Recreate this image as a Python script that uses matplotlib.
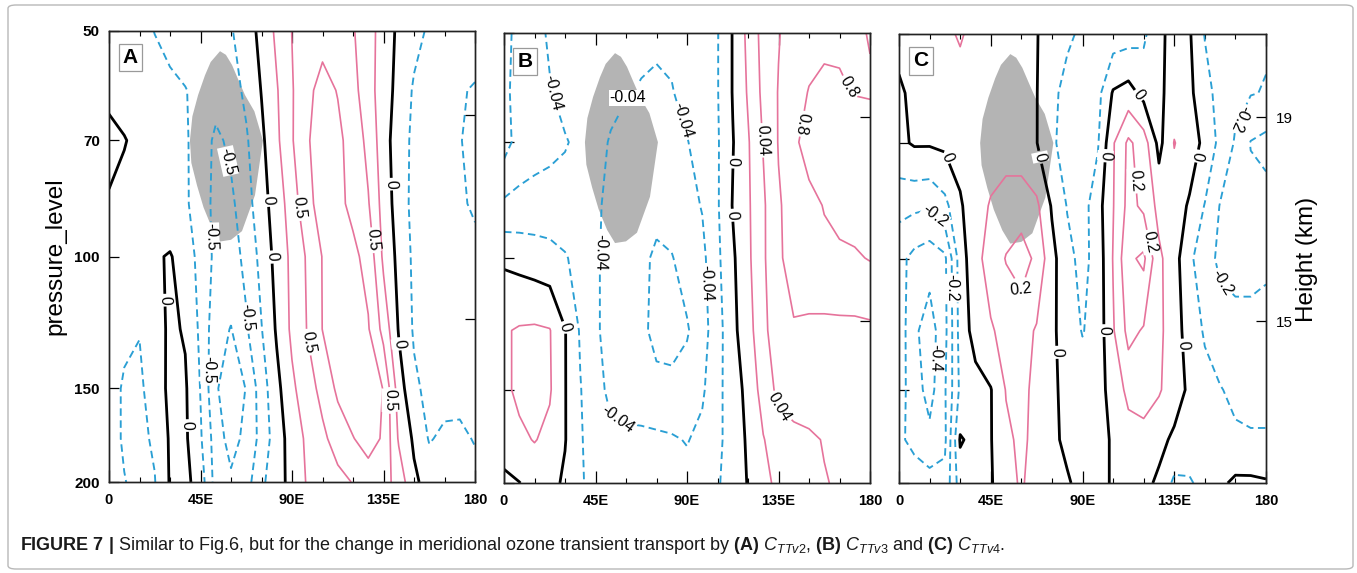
import numpy as np
import matplotlib
matplotlib.use("Agg")
import matplotlib.pyplot as plt
from matplotlib import font_manager
from matplotlib.patches import Polygon, FancyBboxPatch
from matplotlib.ticker import FixedLocator, NullLocator

plt.rcParams['font.family'] = ['Liberation Sans', 'DejaVu Sans']
plt.rcParams['mathtext.fontset'] = 'custom'
plt.rcParams['mathtext.rm'] = 'Liberation Sans'
plt.rcParams['mathtext.it'] = 'Liberation Sans:italic'
plt.rcParams['mathtext.bf'] = 'Liberation Sans:bold'
plt.rcParams['lines.dashed_pattern'] = [4.0, 2.4]

_installed = {f.name for f in font_manager.fontManager.ttflist}
NARROW = 'Liberation Sans Narrow' if 'Liberation Sans Narrow' in _installed else 'Liberation Sans'

# ---------------- data ----------------
LON = [0, 7.5, 15, 22.5, 30, 37.5, 45, 52.5, 60, 67.5, 75, 82.5, 90,
       97.5, 105, 112.5, 120, 127.5, 135, 142.5, 150, 157.5, 165, 172.5, 180]
PRES = [50, 60, 70, 85, 100, 125, 150, 175, 200]

X_TICKS = [0, 45, 90, 135, 180]
X_TICK_LABELS = ['0', '45E', '90E', '135E', '180']
X_MINOR = [15, 30, 60, 75, 105, 120, 150, 165]
P_TICKS = [50, 70, 100, 150, 200]
P_TICK_LABELS = ['50', '70', '100', '150', '200']
HEIGHT_P = [64.7, 121.3]
HEIGHT_KM = ['19', '15']

GRAY_LON = [54.6, 50.0, 47.2, 43.8, 41.0, 39.8, 40.5, 43.3, 46.5, 50.7, 54.6,
            60.0, 65.4, 71.8, 75.7, 71.5, 66.9, 63.5, 60.5, 57.5]
GRAY_P = [53.2, 55.0, 57.3, 60.9, 65.0, 70.0, 75.0, 80.4, 86.0, 91.7, 95.5,
          95.0, 92.5, 82.8, 70.0, 64.0, 60.9, 58.0, 55.5, 53.8]

A_VALUES = [
    [-0.10, -0.12, -0.18, -0.255, -0.32, -0.38, -0.42, -0.40, -0.27, -0.12, 0.07, 0.30, 0.505, 0.60, 0.68, 0.62, 0.52, 0.35, 0.14, -0.05, -0.18, -0.28, -0.32, -0.33, -0.33],
    [-0.05, -0.08, -0.12, -0.16, -0.20, -0.24, -0.32, -0.40, -0.35, -0.20, 0.01, 0.23, 0.48, 0.70, 0.82, 0.74, 0.58, 0.35, 0.12, -0.08, -0.28, -0.36, -0.42, -0.47, -0.53],
    [0.06, 0.01, -0.05, -0.10, -0.16, -0.22, -0.36, -0.55, -0.45, -0.28, -0.05, 0.20, 0.48, 0.73, 0.85, 0.80, 0.66, 0.43, 0.11, -0.14, -0.30, -0.37, -0.43, -0.49, -0.56],
    [-0.02, -0.06, -0.10, -0.14, -0.18, -0.22, -0.35, -0.58, -0.55, -0.35, -0.10, 0.12, 0.37, 0.68, 0.85, 0.80, 0.70, 0.52, 0.15, -0.12, -0.32, -0.38, -0.43, -0.47, -0.53],
    [-0.10, -0.08, -0.06, -0.03, 0.02, -0.12, -0.33, -0.56, -0.60, -0.44, -0.17, 0.08, 0.31, 0.53, 0.76, 0.82, 0.80, 0.68, 0.20, -0.07, -0.30, -0.34, -0.36, -0.40, -0.44],
    [-0.12, -0.20, -0.24, -0.10, 0.04, -0.02, -0.30, -0.66, -0.76, -0.53, -0.26, 0.03, 0.30, 0.51, 0.755, 0.85, 0.85, 0.77, 0.42, -0.02, -0.28, -0.32, -0.33, -0.33, -0.33],
    [-0.15, -0.28, -0.30, -0.12, 0.05, 0.03, -0.26, -0.72, -0.90, -0.74, -0.37, -0.07, 0.20, 0.40, 0.57, 0.80, 0.90, 0.90, 0.74, 0.12, -0.20, -0.32, -0.34, -0.34, -0.35],
    [-0.15, -0.28, -0.30, -0.22, 0.03, 0.04, -0.22, -0.62, -0.85, -0.68, -0.42, -0.11, 0.10, 0.30, 0.45, 0.60, 0.74, 0.85, 0.72, 0.22, -0.04, -0.27, -0.20, -0.19, -0.27],
    [-0.15, -0.24, -0.32, -0.26, 0.02, 0.07, -0.12, -0.60, -0.70, -0.60, -0.30, -0.10, 0.08, 0.27, 0.36, 0.43, 0.51, 0.62, 0.60, 0.40, 0.05, -0.10, -0.15, -0.15, -0.15],
]
A_LEVELS = [-0.75, -0.5, -0.25, 0, 0.25, 0.5, 0.75]
A_LABELS = {-0.5: '-0.5', 0: '0', 0.5: '0.5'}

B_VALUES = [
    [-0.065, -0.055, -0.045, -0.038, -0.034, -0.033, -0.034, -0.035, -0.036, -0.037, -0.037, -0.036, -0.033, -0.028, -0.021, 0.001, 0.025, 0.047, 0.059, 0.068, 0.072, 0.075, 0.076, 0.077, 0.081],
    [-0.065, -0.052, -0.046, -0.041, -0.036, -0.034, -0.035, -0.037, -0.039, -0.041, -0.043, -0.041, -0.034, -0.028, -0.021, 0.001, 0.022, 0.045, 0.061, 0.071, 0.081, 0.085, 0.083, 0.079, 0.078],
    [-0.068, -0.052, -0.047, -0.044, -0.041, -0.037, -0.036, -0.041, -0.046, -0.049, -0.050, -0.047, -0.041, -0.031, -0.022, -0.001, 0.018, 0.041, 0.061, 0.076, 0.088, 0.092, 0.094, 0.094, 0.093],
    [-0.036, -0.034, -0.033, -0.033, -0.034, -0.036, -0.038, -0.043, -0.048, -0.052, -0.055, -0.052, -0.046, -0.039, -0.022, 0.001, 0.017, 0.037, 0.058, 0.068, 0.074, 0.081, 0.085, 0.087, 0.088],
    [-0.003, -0.006, -0.009, -0.012, -0.018, -0.028, -0.038, -0.045, -0.050, -0.056, -0.063, -0.061, -0.052, -0.045, -0.024, -0.003, 0.016, 0.037, 0.057, 0.068, 0.072, 0.075, 0.077, 0.078, 0.081],
    [0.018, 0.022, 0.023, 0.021, 0.001, -0.022, -0.038, -0.045, -0.050, -0.056, -0.065, -0.068, -0.062, -0.048, -0.028, -0.005, 0.012, 0.035, 0.052, 0.058, 0.056, 0.055, 0.055, 0.055, 0.056],
    [0.016, 0.024, 0.026, 0.022, 0.001, -0.019, -0.034, -0.044, -0.048, -0.052, -0.055, -0.054, -0.050, -0.043, -0.025, -0.010, 0.006, 0.028, 0.045, 0.050, 0.050, 0.050, 0.052, 0.055, 0.055],
    [0.012, 0.016, 0.021, 0.015, 0.001, -0.018, -0.030, -0.036, -0.036, -0.035, -0.036, -0.038, -0.041, -0.035, -0.024, -0.012, 0.003, 0.019, 0.030, 0.034, 0.037, 0.041, 0.044, 0.046, 0.047],
    [-0.006, -0.0005, 0.006, 0.006, -0.003, -0.018, -0.026, -0.030, -0.032, -0.033, -0.033, -0.034, -0.034, -0.030, -0.022, -0.011, 0.001, 0.014, 0.025, 0.031, 0.035, 0.039, 0.042, 0.044, 0.045],
]
B_LEVELS = [-0.06, -0.04, -0.02, 0, 0.02, 0.04, 0.06, 0.08]
B_LABELS = {-0.04: '-0.04', 0: '0', 0.04: '0.04', 0.08: '0.8'}

C_VALUES = [
    [0.04, 0.05, 0.06, 0.08, 0.11, 0.07, 0.05, 0.04, 0.03, 0.005, -0.05, -0.08, -0.12, -0.14, -0.15, -0.14, -0.12, -0.02, 0.03, 0.01, -0.105, -0.14, -0.17, -0.18, -0.19],
    [-0.02, 0.03, 0.04, 0.05, 0.06, 0.05, 0.05, 0.04, 0.03, 0.003, -0.07, -0.14, -0.17, -0.13, 0.01, 0.04, -0.03, -0.02, 0.04, 0.02, -0.06, -0.14, -0.18, -0.195, -0.205],
    [-0.02, 0.01, 0.01, 0.02, 0.03, 0.04, 0.05, 0.05, 0.04, 0.003, -0.08, -0.15, -0.16, -0.11, 0.09, 0.22, 0.15, -0.03, 0.105, 0.04, -0.02, -0.13, -0.21, -0.305, -0.33],
    [-0.17, -0.18, -0.19, -0.13, -0.01, 0.05, 0.11, 0.15, 0.16, 0.12, -0.01, -0.105, -0.14, -0.04, 0.095, 0.23, 0.18, 0.07, 0.04, -0.01, -0.105, -0.205, -0.24, -0.26, -0.26],
    [-0.27, -0.33, -0.36, -0.32, -0.05, 0.07, 0.14, 0.205, 0.24, 0.18, 0.03, -0.07, -0.13, -0.06, 0.105, 0.28, 0.32, 0.12, 0.04, -0.08, -0.16, -0.22, -0.23, -0.23, -0.22],
    [-0.24, -0.38, -0.45, -0.33, -0.06, 0.04, 0.09, 0.13, 0.14, 0.09, 0.02, -0.05, -0.105, -0.06, 0.09, 0.23, 0.19, 0.12, 0.05, -0.05, -0.11, -0.15, -0.17, -0.17, -0.16],
    [-0.26, -0.35, -0.44, -0.31, -0.08, -0.04, -0.005, 0.105, 0.12, 0.08, 0.02, -0.03, -0.05, -0.03, 0.03, 0.13, 0.15, 0.11, 0.05, -0.02, -0.07, -0.095, -0.12, -0.13, -0.13],
    [-0.28, -0.33, -0.37, -0.32, 0.01, -0.03, -0.005, 0.08, 0.12, 0.07, 0.02, -0.02, -0.04, -0.03, 0.01, 0.05, 0.06, 0.03, -0.02, -0.05, -0.07, -0.08, -0.085, -0.09, -0.09],
    [-0.22, -0.24, -0.26, -0.27, -0.05, -0.04, -0.01, 0.07, 0.11, 0.06, 0.03, 0.01, -0.03, -0.03, 0.01, 0.04, 0.03, -0.02, -0.12, -0.11, -0.07, -0.02, 0.02, 0.02, 0.01],
]
C_LEVELS = [-0.4, -0.3, -0.2, -0.1, 0, 0.1, 0.2, 0.3]
C_LABELS = {-0.4: '-0.4', -0.2: '-0.2', 0: '0', 0.2: '0.2'}

# label anchor points (lon, hPa) used only to place the contour labels
A_LABEL_AT = [(61, 74.3), (49.7, 94.2), (69.3, 120.6), (49.2, 141.7), (78.7, 84.1),
              (80.2, 100), (25.6, 114.3), (41.3, 168), (139.2, 80), (144.1, 130.6),
              (93.9, 85.9), (97.9, 130), (130.3, 95), (138.2, 155.5)]
B_LABEL_AT = [(24.1, 60.2), (63.4, 62), (88, 65.4), (46.2, 98.4), (101.3, 108),
              (53.1, 170), (112.6, 74.4), (113.6, 87.6), (30, 123.7), (127.4, 69.5),
              (135.7, 158), (145.6, 66), (166.7, 59.6)]
C_LABEL_AT = [(24, 73.1), (69.2, 73.1), (99.6, 72.7), (118.2, 60.2), (149.1, 73.1),
              (77.5, 133.5), (103.5, 124.7), (139.3, 130.6), (19.1, 86.9), (26, 109.6),
              (18.6, 136), (55.4, 112), (116.7, 78.5), (121.6, 95.3), (165.8, 64.6),
              (156, 109.2)]

# ---------------- figure ----------------
W, H = 1357, 573
fig = plt.figure(figsize=(W / 100, H / 100), dpi=100)

BLUE = '#2a9fd4'
PINK = '#e6739b'


def line_props(levels):
    colors = [BLUE if l < 0 else ('black' if l == 0 else PINK) for l in levels]
    styles = ['dashed' if l < 0 else 'solid' for l in levels]
    widths = [1.35 if l < 0 else (2.0 if l == 0 else 1.2) for l in levels]
    return colors, styles, widths


def panel(px_left, px_top, px_w, px_h, values, levels, fmt, label_at, letter,
          letter_xy, show_left, show_right, flat=()):
    ax = fig.add_axes([px_left / W, 1 - (px_top + px_h) / H, px_w / W, px_h / H])
    ax.set_yscale('log')
    ax.set_xlim(0, 180)
    ax.set_ylim(200, 50)
    ax.add_patch(Polygon(np.column_stack([GRAY_LON, GRAY_P]), closed=True,
                         facecolor='#b4b4b4', edgecolor='none', zorder=1))
    z = np.array(values)
    lab_levels = sorted(fmt.keys())
    other_levels = [l for l in levels if l not in fmt]
    c, s, w = line_props(other_levels)
    ax.contour(LON, PRES, z, levels=other_levels, colors=c, linestyles=s,
               linewidths=w, zorder=2)
    c, s, w = line_props(lab_levels)
    cs = ax.contour(LON, PRES, z, levels=lab_levels, colors=c, linestyles=s,
                    linewidths=w, zorder=2)
    texts = ax.clabel(cs, fmt=fmt, manual=label_at, inline=True,
                      inline_spacing=2, fontsize=11.5, colors='black')
    for i, t in enumerate(texts):
        t.set_bbox(dict(facecolor='white', edgecolor='none', pad=0.5))
        t.set_zorder(4)
        r = t.get_rotation() % 360
        if i in flat:
            t.set_rotation(0)
        elif 45 < r <= 90:
            t.set_rotation(r - 180)

    ax.set_xticks(X_TICKS)
    ax.set_xticklabels(X_TICK_LABELS, fontsize=10.5, fontweight='bold',
                       family=[NARROW, 'Liberation Sans'])
    ax.xaxis.set_minor_locator(FixedLocator(X_MINOR))
    ax.tick_params(axis='x', which='major', direction='in', length=8.5,
                   width=0.9, top=True, pad=8)
    ax.tick_params(axis='x', which='minor', direction='in', length=3.5,
                   width=0.8, top=True)
    ax.set_yticks(P_TICKS)
    ax.yaxis.set_minor_locator(NullLocator())
    if show_left:
        ax.set_yticklabels(P_TICK_LABELS, fontsize=11, fontweight='bold')
    else:
        ax.set_yticklabels([])
    ax.tick_params(axis='y', which='major', direction='in', length=7,
                   width=0.9, pad=6.5)
    for sp in ax.spines.values():
        sp.set_linewidth(1.0)
        sp.set_color('#222222')

    tw = ax.twinx()
    tw.set_yscale('log')
    tw.set_ylim(200, 50)
    tw.set_yticks(HEIGHT_P)
    tw.yaxis.set_minor_locator(NullLocator())
    if show_right:
        tw.set_yticklabels(HEIGHT_KM, fontsize=11)
    else:
        tw.set_yticklabels([])
    tw.tick_params(axis='y', which='major', direction='in', length=7,
                   width=0.9, pad=7)
    for sp in tw.spines.values():
        sp.set_linewidth(1.0)
        sp.set_color('#222222')

    ax.text(letter_xy[0], letter_xy[1], letter, transform=ax.transAxes,
            fontsize=15, fontweight='bold', ha='center', va='center',
            bbox=dict(boxstyle='square,pad=0.2', facecolor='white',
                      edgecolor='#9a9a9a', linewidth=0.9), zorder=6)
    return ax


panel(109, 31, 366, 451, A_VALUES, A_LEVELS, A_LABELS, A_LABEL_AT, 'A',
      (0.0587, 0.941), True, False)
panel(504, 33, 366, 450, B_VALUES, B_LEVELS, B_LABELS, B_LABEL_AT, 'B',
      (0.0574, 0.9367), False, False, flat=(1,))
panel(899, 34, 367, 449, C_VALUES, C_LEVELS, C_LABELS, C_LABEL_AT, 'C',
      (0.06, 0.94), False, True)

fig.text(55 / W, 1 - 256 / H, 'pressure_level', rotation=90, fontsize=17.5,
         ha='center', va='center')
fig.text(1307 / W, 1 - 259 / H, 'Height (km)', rotation=90, fontsize=17.5,
         ha='center', va='center')

caption = (r"$\mathbf{FIGURE\ 7\ |}$ Similar to Fig.6, but for the change in meridional "
           r"ozone transient transport by $\mathbf{(A)}$ $\mathit{C}_{\mathit{TTv2}}$, "
           r"$\mathbf{(B)}$ $\mathit{C}_{\mathit{TTv3}}$ and $\mathbf{(C)}$ "
           r"$\mathit{C}_{\mathit{TTv4}}$.")
fig.text(20 / W, 1 - 545 / H, caption, fontsize=13, ha='left', va='center',
         color='#1a1a1a')

fig.patches.append(FancyBboxPatch((8 / W, 4 / H), 1345 / W, 564 / H,
                                  boxstyle='round,pad=0,rounding_size=0.006',
                                  transform=fig.transFigure, facecolor='none',
                                  edgecolor='#b8b8b8', linewidth=1.0))

fig.savefig('out.png', dpi=100)
